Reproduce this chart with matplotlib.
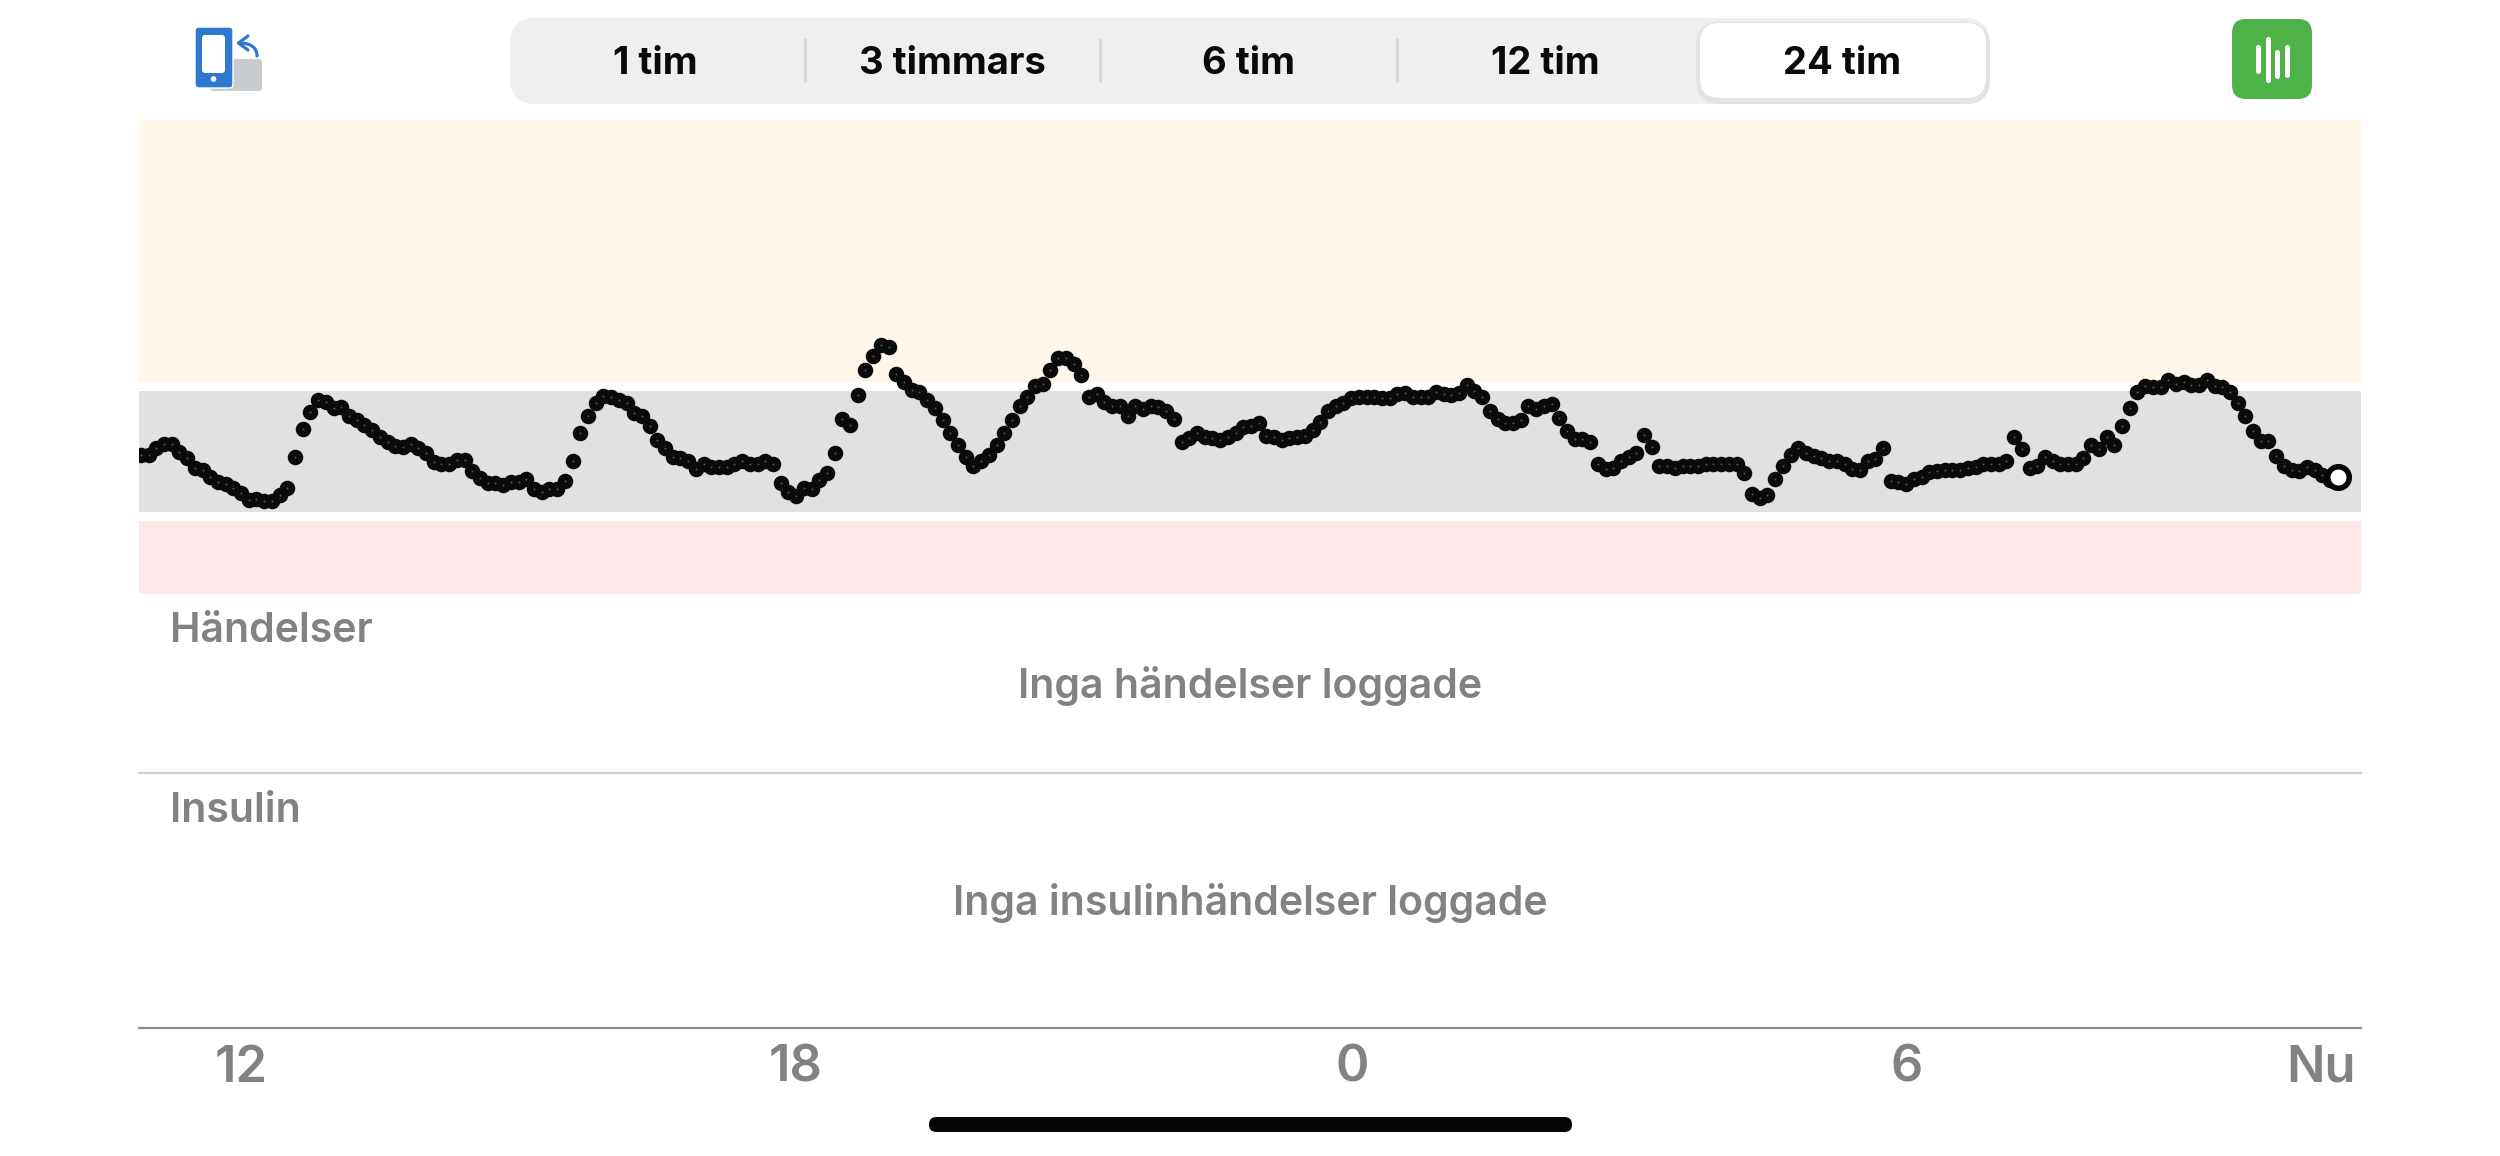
import numpy as np
import matplotlib
matplotlib.use("Agg")
import matplotlib.pyplot as plt
from matplotlib.patches import FancyBboxPatch, Rectangle, Circle, PathPatch
from matplotlib.path import Path

plt.rcParams['font.family'] = ['Inter', 'Roboto', 'DejaVu Sans']

# Sensor glucose, mg/dL, one reading every 5 minutes (oldest first)
glucose = [
    122,122,128,132,132,124,119,110,108,102,97,95,92,87,81,82,80,80,85,92,
    120,145,161,172,170,164,165,157,153,149,144,138,133,130,129,132,128,123,115,113,
    113,117,117,107,101,96,96,94,97,97,100,91,88,91,91,98,116,142,157,169,
    175,174,172,169,160,157,148,135,128,120,119,116,109,113,111,111,111,
    113,116,113,113,116,113,96,88,84,92,91,99,105,123,154,149,176,199,212,222,
    220,195,188,181,179,172,164,153,142,131,120,112,116,122,131,142,153,166,174,184,
    186,199,210,210,204,194,174,177,170,166,166,157,166,163,166,165,162,154,133,137,
    142,138,137,135,138,142,147,148,151,139,138,135,137,138,139,144,152,162,
    166,169,173,174,174,174,173,173,177,178,174,174,174,179,177,176,178,185,180,174,
    162,154,151,151,153,166,163,166,168,155,143,136,136,133,113,109,110,116,120,123,
    140,129,112,112,110,112,112,112,113,113,113,113,113,105,86,83,85,100,112,122,
    128,123,121,119,116,116,113,109,108,116,118,128,98,97,95,100,102,106,
    107,108,108,108,110,111,113,113,113,116,138,127,110,112,120,116,113,113,113,119,
    131,127,138,131,148,164,179,184,183,183,190,186,188,185,185,190,184,183,179,169,
    157,143,134,134,121,112,108,107,111,108,103,99,102,
]
now_hours = 22.68            # hours after the "12" tick
tick_hours = [0.01, 6.01, 12.03, 18.02, 22.5]
tick_labels = ['12', '18', '0', '6', 'Nu']
x_range = [-1.09, 22.93]
y_range = [-399, 426]
high_band = [188, 426]
target_band = [70, 180]
low_band = [-4.5, 62]
segments = ['1 tim', '3 timmars', '6 tim', '12 tim', '24 tim']
segment_x = [655, 952, 1249, 1545, 1842]
separator_x = [805, 1100, 1397]

W, H = 2500, 1156
fig = plt.figure(figsize=(W/100, H/100), dpi=100, facecolor='white')

# Chart axes, spanning from the top of the bands to the time axis line
ax = fig.add_axes([139/W, 1-1028/H, (2361-139)/W, (1028-120)/H])
ax.set_xlim(x_range); ax.set_ylim(y_range)
ax.axhspan(*high_band, color='#FFF7EA', lw=0, zorder=0)
ax.axhspan(*target_band, color='#E0E2E1', lw=0, zorder=0)
ax.axhspan(*low_band, color='#FFE8E9', lw=0, zorder=0)
for s in ['top', 'left', 'right']:
    ax.spines[s].set_visible(False)
ax.spines['bottom'].set_color('#8E8E8E'); ax.spines['bottom'].set_linewidth(1.6)
ax.set_yticks([])
ax.set_xticks(tick_hours, tick_labels)
ax.tick_params(axis='x', length=0, pad=12, labelsize=36.5, labelcolor='#828282')
for t in ax.get_xticklabels():
    t.set_fontweight('semibold')

g = np.array(glucose, float)
t = now_hours - (len(g)-1-np.arange(len(g)))/12
ax.scatter(t[:-1], g[:-1], s=125, c='#0A0A0A', lw=0, zorder=3)
ax.scatter(t[:-1], g[:-1], s=2, c='#555555', lw=0, zorder=4)
ax.scatter(t[-1:], g[-1:], s=240, c='white', edgecolors='#050505', lw=4, zorder=5)

# Overlay in pixel coordinates for the app's interface elements
ui = fig.add_axes([0, 0, 1, 1], zorder=10)
ui.set_xlim(0, W); ui.set_ylim(H, 0); ui.axis('off'); ui.patch.set_alpha(0)

def rrect(x0, y0, x1, y1, r, **kw):
    p = FancyBboxPatch((x0+r, y0+r), x1-x0-2*r, y1-y0-2*r,
                       boxstyle=f'round,pad={r},rounding_size={r}', **kw)
    ui.add_patch(p)

rrect(510, 18, 1990, 104, 26, fc='#EFEFEF', ec='none')
rrect(1696, 22, 1990, 104, 24, fc='#E2E4E3', ec='none')
rrect(1700, 23, 1986, 98, 20, fc='white', ec='none')
for x in separator_x:
    ui.plot([x, x], [38, 82], color='#D6D6D6', lw=2, solid_capstyle='butt')
for x, s in zip(segment_x, segments):
    ui.text(x, 60, s, ha='center', va='center_baseline', fontsize=27.5,
            fontweight='bold', color='#0A0A0A')

# Phone-rotation icon
rrect(210, 59, 262, 91, 3, fc='#C8CCCE', ec='none')
rrect(195, 27, 233, 88, 4, fc='#2F78D0', ec='white', lw=1)
rrect(202, 35, 225, 73, 3, fc='white', ec='none')
ui.add_patch(Circle((213.5, 79), 2.8, fc='white', ec='none'))
arrow_shaft = Path([(239, 43), (250, 43), (257, 47), (257, 56)],
                   [Path.MOVETO, Path.CURVE4, Path.CURVE4, Path.CURVE4])
ui.add_patch(PathPatch(arrow_shaft, fc='none', ec='#2F78D0', lw=2.3, capstyle='round'))
ui.plot([248, 238.5, 248], [36, 43, 50], color='#2F78D0', lw=2.3,
        solid_capstyle='round', solid_joinstyle='round')

# Green meter icon
rrect(2232, 19, 2312, 99, 14, fc='#4DB349', ec='none')
for x, y0, y1 in [(2258, 47, 71), (2267.5, 39, 80), (2277, 52, 76), (2286.5, 47, 75)]:
    ui.plot([x, x], [y0, y1], color='white', lw=3.6, solid_capstyle='round')

grey = '#828282'
ui.text(170, 631, 'Händelser', ha='left', va='center', fontsize=29.5, fontweight='semibold', color=grey)
ui.text(1250, 686, 'Inga händelser loggade', ha='center', va='center', fontsize=29.6, fontweight='semibold', color=grey)
ui.plot([139, 2361], [773, 773], color='#CFCFCF', lw=1.6)
ui.text(170, 811, 'Insulin', ha='left', va='center', fontsize=29.5, fontweight='semibold', color=grey)
ui.text(1250, 903, 'Inga insulinhändelser loggade', ha='center', va='center', fontsize=29.6, fontweight='semibold', color=grey)

# Home indicator
rrect(929, 1117, 1572, 1132, 7.4, fc='#050505', ec='none')

fig.savefig('out.png', dpi=100)
